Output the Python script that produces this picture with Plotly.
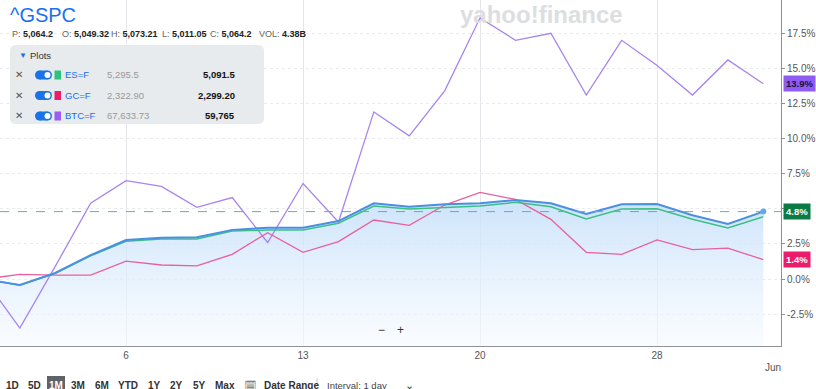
import plotly.graph_objects as go

# ---------------- data ----------------
dates = ["Apr 30", "May 1", "May 2", "May 3", "May 6", "May 7", "May 8", "May 9", "May 10",
         "May 13", "May 14", "May 15", "May 16", "May 17", "May 20", "May 21", "May 22",
         "May 23", "May 24", "May 28", "May 29", "May 30", "May 31"]
gspc = [0.0, -0.43, 0.43, 1.7, 2.78, 2.94, 2.97, 3.5, 3.65, 3.65, 4.13, 5.39, 5.15, 5.32,
        5.39, 5.63, 5.39, 4.63, 5.32, 5.34, 4.54, 3.92, 4.8]
es_f = [0.0, -0.45, 0.4, 1.65, 2.69, 2.85, 2.85, 3.42, 3.49, 3.49, 3.97, 5.2, 4.99, 5.1,
        5.2, 5.46, 5.15, 4.27, 4.99, 5.0, 4.25, 3.63, 4.44]
gc_f = [0.0, 0.33, 0.28, 0.28, 1.28, 1.0, 0.93, 1.76, 3.3, 1.9, 2.66, 4.2, 3.82, 5.27,
        6.17, 5.67, 4.25, 1.9, 1.76, 2.78, 2.1, 2.2, 1.38]
btc_f = [0.0, -3.5, 0.9, 5.4, 7.0, 6.6, 5.1, 5.8, 2.6, 6.8, 4.06, 11.9, 10.2, 13.4,
         18.6, 17.0, 17.5, 13.1, 17.0, 15.2, 13.1, 15.6, 13.9]

x_tick_labels = ["6", "13", "20", "28"]
x_tick_dates = ["May 6", "May 13", "May 20", "May 28"]
y_ticks = [-2.5, 0.0, 2.5, 5.0, 7.5, 10.0, 12.5, 15.0, 17.5]

plots = [("ES=F", "5,295.5", "5,091.5", "#2fc27a"),
         ("GC=F", "2,322.90", "2,299.20", "#ec1c6c"),
         ("BTC=F", "67,633.73", "59,765", "#9a5cf5")]
stats = [("P", "5,064.2"), ("O", "5,049.32"), ("H", "5,073.21"), ("L", "5,011.05"),
         ("C", "5,064.2"), ("VOL", "4.38B")]
ranges = ["1D", "5D", "1M", "3M", "6M", "YTD", "1Y", "2Y", "5Y", "Max"]

# ---------------- geometry ----------------
W, H = 816, 389
PL, PR, PT, PB = 0, 781, 0, 346
Y0, Y1 = -4.77, 19.87
xi = [i - 1 for i in range(len(dates))]
xpos = dict(zip(dates, xi))
X0, X1 = -0.56, 21.5
stat_x = [10, 60, 109, 160, 208, 257]
range_x = [12, 34, 56, 78, 102, 128, 154, 176, 199, 225]


def px(p):
    return (p - PL) / (PR - PL)


def py(p):
    return 1 - (p - PT) / (PB - PT)


FONT = "Liberation Sans, Arial, sans-serif"
fig = go.Figure()

# baseline for the gradient area
fig.add_trace(go.Scatter(x=xi, y=[Y0] * len(xi), mode="lines", line=dict(width=0),
                         hoverinfo="skip", showlegend=False))
fig.add_trace(go.Scatter(x=xi, y=gspc, mode="lines", line=dict(width=0), fill="tonexty",
                         fillgradient=dict(type="vertical", start=Y0, stop=max(gspc),
                                           colorscale=[[0, "rgba(246,250,255,0.6)"],
                                                       [1, "rgba(196,223,250,0.85)"]]),
                         hoverinfo="skip", showlegend=False))

fig.add_trace(go.Scatter(x=xi, y=btc_f, mode="lines", line=dict(color="#a784f0", width=1.3),
                         name="BTC=F", showlegend=False))
fig.add_trace(go.Scatter(x=xi, y=gc_f, mode="lines", line=dict(color="#e8609c", width=1.3),
                         name="GC=F", showlegend=False))
fig.add_trace(go.Scatter(x=xi, y=es_f, mode="lines", line=dict(color="#3dbf86", width=1.5),
                         name="ES=F", showlegend=False))
fig.add_trace(go.Scatter(x=xi, y=gspc, mode="lines", line=dict(color="#4a8fe4", width=2),
                         name="^GSPC", showlegend=False))
fig.add_trace(go.Scatter(x=[xi[-1]], y=[gspc[-1]], mode="markers",
                         marker=dict(color="#64aaf2", size=6), showlegend=False))

shapes = []
# dashed reference line at last value
shapes.append(dict(type="line", xref="paper", x0=0, x1=1, yref="y", y0=gspc[-1], y1=gspc[-1],
                   line=dict(color="#5fb491", width=1, dash="dash"), layer="above"))

# legend panel (rounded rect)
bx0, bx1, by0, by1, r = 10, 264, 45, 124, 6
rx, ry = r / (PR - PL), r / (PB - PT)
a, b, c, d = px(bx0), px(bx1), py(by0), py(by1)
path = (f"M {a+rx},{c} L {b-rx},{c} Q {b},{c} {b},{c-ry} L {b},{d+ry} Q {b},{d} {b-rx},{d} "
        f"L {a+rx},{d} Q {a},{d} {a},{d+ry} L {a},{c-ry} Q {a},{c} {a+rx},{c} Z")
shapes.append(dict(type="path", xref="paper", yref="paper", path=path,
                   fillcolor="#e8ebed", line=dict(width=0)))

annotations = []


def text(xp, yp, s, size=10, color="#222", anchor="left", bold=False, yanchor="middle", **kw):
    if bold:
        s = f"<b>{s}</b>"
    annotations.append(dict(x=px(xp), y=py(yp), xref="paper", yref="paper", text=s,
                            showarrow=False, xanchor=anchor, yanchor=yanchor,
                            font=dict(size=size, color=color, family=FONT), **kw))


# header
text(458, 15, "<b>yahoo!finance</b>", size=24, color="#dcdee0")
text(8, 15, "^GSPC", size=20, color="#1a6ff0")
for (lab, val), xs in zip(stats, stat_x):
    s = f"<span style='color:#666'>{lab}:</span> <b>{val}</b>"
    text(xs, 34, s, size=9, color="#222")

# legend panel content
text(17, 55, "▼", size=8, color="#1a6ff0")
text(28, 55, "Plots", size=9.5, color="#333")
for k, (sym, old, cur, col) in enumerate(plots):
    yy = 75 + k * 20.5
    text(19, yy, "✕", size=10, color="#555", anchor="center")
    # toggle
    shapes.append(dict(type="circle", xref="paper", yref="paper", x0=px(35), x1=px(44),
                       y0=py(yy + 4.5), y1=py(yy - 4.5), fillcolor="#1a73e8", line=dict(width=0)))
    shapes.append(dict(type="circle", xref="paper", yref="paper", x0=px(43), x1=px(52),
                       y0=py(yy + 4.5), y1=py(yy - 4.5), fillcolor="#1a73e8", line=dict(width=0)))
    shapes.append(dict(type="rect", xref="paper", yref="paper", x0=px(39.5), x1=px(47.5),
                       y0=py(yy + 4.5), y1=py(yy - 4.5), fillcolor="#1a73e8", line=dict(width=0)))
    shapes.append(dict(type="circle", xref="paper", yref="paper", x0=px(44.5), x1=px(50.5),
                       y0=py(yy + 3), y1=py(yy - 3), fillcolor="white", line=dict(width=0)))
    shapes.append(dict(type="rect", xref="paper", yref="paper", x0=px(54.5), x1=px(61),
                       y0=py(yy + 4.5), y1=py(yy - 4.5), fillcolor=col, line=dict(width=0)))
    text(63, yy, sym, size=9.5, color="#1a6ff0")
    text(105, yy, old, size=9.5, color="#999")
    text(237, yy, cur, size=9.5, color="#111", anchor="right", bold=True)

# right side value labels
for val, bg, fg in [(btc_f[-1], "#8e5cf2", "#1b1140"), (gspc[-1], "#0b7a45", "white"),
                    (gc_f[-1], "#ec1c6c", "white")]:
    annotations.append(dict(x=px(783), y=val, xref="paper", yref="y", text=f"<b>{val:.1f}%</b>",
                            showarrow=False, xanchor="left", yanchor="middle", bgcolor=bg,
                            borderpad=2, font=dict(size=9.5, color=fg, family=FONT)))

# zoom buttons
text(381, 330, "−", size=12, color="#333", anchor="center")
text(400, 330, "+", size=12, color="#333", anchor="center")

# Jun label
text(773, 368, "Jun", size=10, color="#555", anchor="center")

# range selector row
for lab, xp in zip(ranges, range_x):
    if lab == "1M":
        shapes.append(dict(type="rect", xref="paper", yref="paper", x0=px(47), x1=px(65),
                           y0=py(394), y1=py(376), fillcolor="#5f6368", line=dict(width=0)))
        text(xp, 385, "<b>1M</b>", size=10, color="white", anchor="center")
    else:
        text(xp, 385, f"<b>{lab}</b>", size=10, color="#333", anchor="center")
text(250, 385, "🗓", size=10, color="#555", anchor="center")
text(262, 385, "<b>Date Range</b>", size=10, color="#333")
shapes.append(dict(type="line", xref="paper", yref="paper", x0=px(317), x1=px(317),
                   y0=py(378), y1=py(392), line=dict(color="#ccc", width=1)))
text(325, 385, "Interval: 1 day", size=9.5, color="#444")
text(409, 385, "⌄", size=11, color="#444", anchor="center")

fig.update_layout(
    width=W, height=H,
    margin=dict(l=PL, r=W - PR, t=PT, b=H - PB),
    paper_bgcolor="white", plot_bgcolor="white",
    showlegend=False,
    shapes=shapes, annotations=annotations,
    font=dict(family=FONT),
    xaxis=dict(range=[X0, X1], tickvals=[xpos[d] for d in x_tick_dates],
               ticktext=x_tick_labels, showgrid=True, gridcolor="#e4e6e9", gridwidth=1,
               zeroline=False, showline=True, linecolor="#8e9196", linewidth=1,
               ticks="", tickfont=dict(size=10, color="#555"), fixedrange=True),
    yaxis=dict(range=[Y0, Y1], side="right", tickvals=y_ticks,
               ticktext=[f"{v:.1f}%" for v in y_ticks], showgrid=True, gridcolor="#e9ebee",
               griddash="dot", zeroline=False, showline=True, linecolor="#8e9196",
               linewidth=1, ticks="outside", ticklen=3, tickcolor="#8e9196",
               tickfont=dict(size=10, color="#555"), fixedrange=True),
)

fig.write_html("out.html", config={"displayModeBar": False},
               post_script="document.body.style.margin='0';document.body.style.overflow='hidden';")
